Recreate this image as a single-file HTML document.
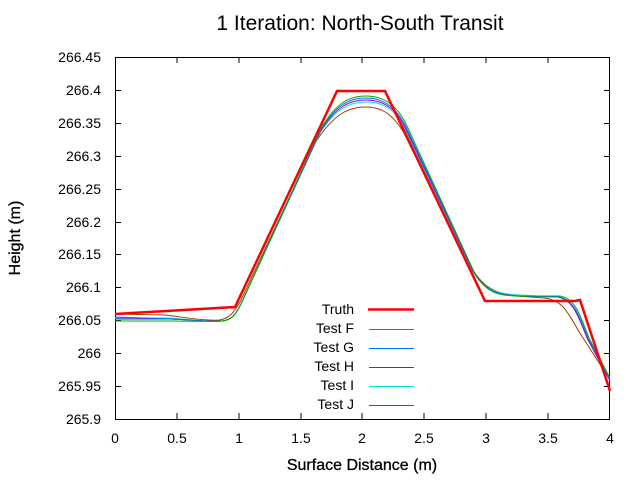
<!DOCTYPE html>
<html><head><style>body{margin:0;background:#fff}svg{display:block}text{font-family:"Liberation Sans",sans-serif;fill:#000}</style></head>
<body>
<svg width="640" height="480" viewBox="0 0 640 480">
<text x="360" y="30" font-size="21" text-anchor="middle">1 Iteration: North-South Transit</text>
<g font-size="14" text-anchor="end">
<text x="101" y="62">266.45</text>
<text x="101" y="95">266.4</text>
<text x="101" y="128">266.35</text>
<text x="101" y="161">266.3</text>
<text x="101" y="194">266.25</text>
<text x="101" y="227">266.2</text>
<text x="101" y="259">266.15</text>
<text x="101" y="292">266.1</text>
<text x="101" y="325">266.05</text>
<text x="101" y="358">266</text>
<text x="101" y="391">265.95</text>
<text x="101" y="424">265.9</text>
</g>
<g font-size="14" text-anchor="middle">
<text x="115" y="443">0</text>
<text x="177" y="443">0.5</text>
<text x="239" y="443">1</text>
<text x="301" y="443">1.5</text>
<text x="362" y="443">2</text>
<text x="424" y="443">2.5</text>
<text x="486" y="443">3</text>
<text x="548" y="443">3.5</text>
<text x="610" y="443">4</text>
</g>
<text x="362" y="470" font-size="16" text-anchor="middle" stroke="#000" stroke-width="0.3">Surface Distance (m)</text>
<text transform="translate(20,238) rotate(-90)" font-size="16" text-anchor="middle" stroke="#000" stroke-width="0.3">Height (m)</text>
<g stroke="#000" stroke-width="1" fill="none">
<rect x="115.5" y="57.5" width="494" height="362"/>
<path d="M177,419v-6M239,419v-6M301,419v-6M362,419v-6M424,419v-6M486,419v-6M548,419v-6M177,57v6M239,57v6M301,57v6M362,57v6M424,57v6M486,57v6M548,57v6"/>
<path d="M115,90.5h6M115,123.5h6M115,156.5h6M115,189.5h6M115,222.5h6M115,254.5h6M115,287.5h6M115,320.5h6M115,353.5h6M115,386.5h6M610,90.5h-6M610,123.5h-6M610,156.5h-6M610,189.5h-6M610,222.5h-6M610,254.5h-6M610,287.5h-6M610,320.5h-6M610,353.5h-6M610,386.5h-6"/>
</g>
<g fill="none" stroke-width="1">
<path stroke="#a04000" d="M115,314 L165,315 C190,318 205,321 220,320 C230,318 234,312 240,302 L315,143 C335,112 350,107 366,107 C384,107 395,117 405,135 L468,262 C482,288 495,293 515,296 L545,298 C560,300 566,308 578,330 L610,380"/>
<path stroke="#00e0e0" d="M115,318 L170,318 C195,320 210,322 222,321 C232,320 236,314 241,304 L320,133 C336,108 350,102 366,102 C384,102 395,110 404,127 L472,270 C484,291 497,294 520,295 L558,297 C572,300 577,312 587,338 L610,380"/>
<path stroke="#a000e0" d="M115,319 L170,319 C195,320 210,322 222,321 C232,320 236,314 241,304 L320,132 C336,106 350,100 366,100 C384,100 396,109 405,127 L473,271 C485,292 498,295 520,296 L558,297 C572,300 577,312 587,338 L610,381"/>
<path stroke="#0070ff" d="M115,317 L170,319 C195,320 210,322 222,321 C232,320 236,314 241,304 L320,131 C336,104 350,98 366,98 C384,98 397,108 406,127 L474,272 C486,293 499,295 520,296 L559,297 C573,300 578,312 588,338 L610,380"/>
<path stroke="#00b000" d="M115,321 L170,321 C195,321 210,322 222,321 C232,320 236,314 241,304 L320,130 C336,102 350,96 366,96 C384,96 398,106 407,126 L475,274 C487,294 500,296 520,296 L560,296 C575,299 579,312 589,338 L610,378"/>
<path stroke="#ff0000" stroke-width="2.5" d="M115,314 L235,307 L337,91 L385,91 L485,301 L575,301 L580,300 L610,391"/>
</g>
<g font-size="14" text-anchor="end">
<text x="354" y="314">Truth</text>
<text x="354" y="333">Test F</text>
<text x="354" y="352">Test G</text>
<text x="354" y="371">Test H</text>
<text x="354" y="390">Test I</text>
<text x="354" y="409">Test J</text>
</g>
<g stroke-width="1">
<line x1="368" y1="309.5" x2="414" y2="309.5" stroke="#ff0000" stroke-width="2.5"/>
<line x1="369" y1="329.5" x2="414" y2="329.5" stroke="#00b000"/>
<line x1="369" y1="348.5" x2="414" y2="348.5" stroke="#0070ff"/>
<line x1="369" y1="367.5" x2="414" y2="367.5" stroke="#a000e0"/>
<line x1="369" y1="386.5" x2="414" y2="386.5" stroke="#00e0e0"/>
<line x1="369" y1="405.5" x2="414" y2="405.5" stroke="#a04000"/>
</g>
</svg>
</body></html>
